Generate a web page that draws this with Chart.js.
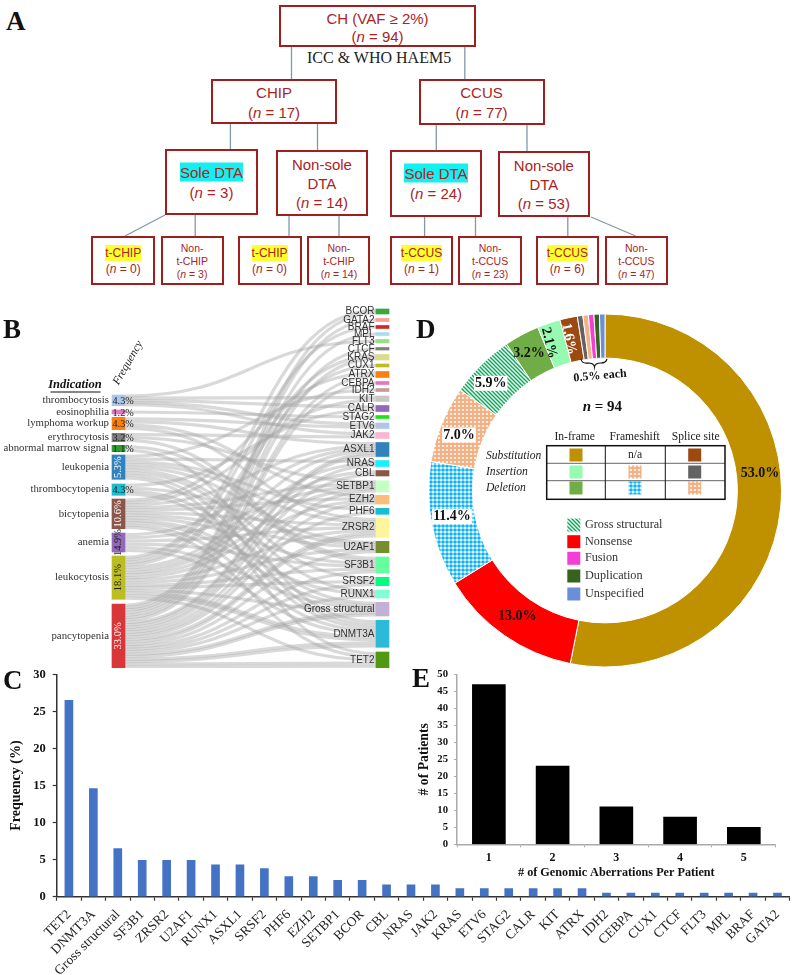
<!DOCTYPE html>
<html>
<head>
<meta charset="utf-8">
<script src="https://cdn.jsdelivr.net/npm/chart.js@4"></script>
<style>
  html, body { margin: 0; padding: 0; background: #fff; }
  #page { position: relative; width: 795px; height: 975px; overflow: hidden; }
  canvas { position: absolute; }
  .letter { position: absolute; font: bold 27px "Liberation Serif", serif; color: #111; line-height: 30px; }
  .box { position: absolute; box-sizing: border-box; border: 2px solid #9e1f1f; background: #fff;
         text-align: center; color: #a9241f; font-family: "Liberation Sans", sans-serif; }
  .box div { position: absolute; left: 0; right: 0; transform: translateY(-50%); white-space: nowrap; }
  .box i { font-style: italic; }
  .cy { background: #14f0f0; padding: 1px 0; }
  .ye { background: #ffff30; padding: 1px 0; }
  #links { position: absolute; left: 0; top: 0; }
  #icc { position: absolute; left: 307px; top: 49px; font: 16px "Liberation Serif", serif; color: #222; white-space: nowrap; }
</style>
</head>
<body>
<div id="page">
  <svg id="links" width="795" height="300"></svg>
  <div id="icc">ICC &amp; WHO HAEM5</div>
  <div id="tree"></div>
  <canvas id="sankey" width="400" height="372" style="left:0;top:300px"></canvas>
  <canvas id="mut" width="795" height="315" style="left:0;top:660px"></canvas>
  <canvas id="perPatient" width="395" height="225" style="left:400px;top:660px"></canvas>
  <canvas id="donut" width="390" height="380" style="left:405px;top:300px"></canvas>
  <div class="letter" style="left:6px;top:6px">A</div>
  <div class="letter" style="left:3px;top:314px">B</div>
  <div class="letter" style="left:3px;top:665px">C</div>
  <div class="letter" style="left:416px;top:314px">D</div>
  <div class="letter" style="left:412px;top:663px">E</div>
</div>

<script>
const SERIF = '"Liberation Serif", serif';
const SANS = '"Liberation Sans", sans-serif';

// panel C
const genes = ['TET2', 'DNMT3A', 'Gross structural', 'SF3B1', 'ZRSR2', 'U2AF1', 'RUNX1', 'ASXL1', 'SRSF2', 'PHF6',
  'EZH2', 'SETBP1', 'BCOR', 'CBL', 'NRAS', 'JAK2', 'KRAS', 'ETV6', 'STAG2', 'CALR', 'KIT', 'ATRX', 'IDH2', 'CEBPA',
  'CUX1', 'CTCF', 'FLT3', 'MPL', 'BRAF', 'GATA2'];
const geneFreq = [26.5, 14.6, 6.5, 4.9, 4.9, 4.9, 4.3, 4.3, 3.8, 2.7, 2.7, 2.2, 2.2, 1.6, 1.6, 1.6, 1.1, 1.1, 1.1, 1.1, 1.1, 1.1,
  0.5, 0.5, 0.5, 0.5, 0.5, 0.5, 0.5, 0.5];

// panel E
const aberrationCounts = ['1', '2', '3', '4', '5'];
const patientCounts = [47, 23, 11, 8, 5];

// panel D
const mutationTypes = ['Substitution in-frame', 'Nonsense', 'Deletion frameshift', 'Insertion frameshift', 'Gross structural',
  'Deletion in-frame', 'Insertion in-frame', 'Substitution splice site', 'Insertion splice site', 'Deletion splice site',
  'Fusion', 'Duplication', 'Unspecified'];
const mutationShare = [53.0, 13.0, 11.4, 7.0, 5.9, 3.2, 2.1, 1.6, 0.5, 0.5, 0.5, 0.5, 0.5];

const indications = ['thrombocytosis', 'eosinophilia', 'lymphoma workup', 'erythrocytosis', 'abnormal marrow signal', 'leukopenia',
  'thrombocytopenia', 'bicytopenia', 'anemia', 'leukocytosis', 'pancytopenia'];
const indicationFreq = ['4.3%', '1.2%', '4.3%', '3.2%', '1.1%', '5.3%', '4.3%', '10.6%', '14.9%', '18.1%', '33.0%'];
const indicationSpans = [[95, 105.7], [110, 114], [117.3, 129.7], [133.3, 141.7], [145.3, 151.7], [155, 179.3], [184, 195.3],
  [199, 228.7], [233, 252], [256, 299.3], [304, 367.7]];
const indicationColors = ['#aec7e8', '#e377c2', '#ff7f0e', '#7f7f7f', '#2ca02c', '#3182bd', '#17becf', '#8c564b', '#9467bd', '#bcbd22', '#d9363a'];

const sankeyGenes = ['BCOR', 'GATA2', 'BRAF', 'MPL', 'FLT3', 'CTCF', 'KRAS', 'CUX1', 'ATRX', 'CEBPA', 'IDH2', 'KIT', 'CALR', 'STAG2',
  'ETV6', 'JAK2', 'ASXL1', 'NRAS', 'CBL', 'SETBP1', 'EZH2', 'PHF6', 'ZRSR2', 'U2AF1', 'SF3B1', 'SRSF2', 'RUNX1', 'Gross structural', 'DNMT3A', 'TET2'];
const geneSpans = [[9, 14], [18.5, 21.5], [25.5, 28.5], [32.5, 35.5], [39.5, 43], [47.5, 50], [54.5, 60], [64, 67], [71.5, 77.5],
  [81.5, 84.5], [88.5, 91.5], [96, 101.5], [105.5, 111.5], [115.5, 118.5], [123, 128.5], [132.5, 138.5], [142.5, 156.5], [160.5, 166.5],
  [170.5, 176], [180.7, 192], [195.3, 204], [208.3, 214.3], [218, 237.3], [241.3, 252.7], [257, 273], [277.3, 285.7], [290, 298],
  [302.3, 316], [320.3, 347.3], [352, 367.7]];
const geneColors = ['#3aa640', '#ff9896', '#d62728', '#a8dcec', '#98df8a', '#7f7f7f', '#dbdb8d', '#bcbd22', '#ff7f0e', '#e377c2', '#c49c94',
  '#c7c7c7', '#9467bd', '#19e619', '#aec7e8', '#f7b6d2', '#3182bd', '#19f0ff', '#8c564b', '#c4ffc4', '#ffbb78', '#17becf', '#fff59b',
  '#748f2c', '#66ffa0', '#00ff7f', '#80ffd4', '#c5b0d5', '#2bbbd8', '#4f9a10'];
// for every gene above: which indications it is connected to
const geneLinks = [[9, 10], [10], [9], [10], [0], [10], [9, 10], [9], [7, 10], [10], [5], [0, 7], [0, 6], [1], [2, 0], [0, 3],
  [2, 7, 8, 9, 10, 10], [5, 9, 10], [9, 10], [3, 7, 8, 9, 10], [2, 7, 9, 10], [5, 10], [2, 5, 7, 8, 9, 10, 10], [5, 6, 7, 9, 10], [3, 4, 7, 8, 9, 10],
  [5, 9, 10], [5, 7, 10], [6, 7, 8, 9, 10, 10], [4, 5, 6, 7, 8, 9, 9, 10, 10], [5, 7, 9, 10, 10]];

// panel A
const treeBoxes = [
  { x: 279, y: 5, w: 197, h: 42, lines: [['CH (VAF ≥ 2%)', 12.5], ['(<i>n</i> = 94)', 31]], size: 15 },
  { x: 211, y: 79, w: 126, h: 45, lines: [['CHIP', 13], ['(<i>n</i> = 17)', 33]], size: 15 },
  { x: 418.5, y: 79, w: 126, h: 46, lines: [['CCUS', 13], ['(<i>n</i> = 77)', 33]], size: 15 },
  { x: 165, y: 149, w: 93, h: 66, lines: [['<span class="cy">Sole DTA</span>', 23], ['(<i>n</i> = 3)', 43]], size: 15 },
  { x: 275.7, y: 150, w: 92.5, h: 66, lines: [['Non-sole', 14], ['DTA', 33], ['(<i>n</i> = 14)', 52]], size: 15 },
  { x: 390, y: 150.3, w: 92, h: 66.4, lines: [['<span class="cy">Sole DTA</span>', 23], ['(<i>n</i> = 24)', 43]], size: 15 },
  { x: 497.5, y: 151, w: 92.7, h: 66.3, lines: [['Non-sole', 14], ['DTA', 33], ['(<i>n</i> = 53)', 52]], size: 15 },
  { x: 91.2, y: 236, w: 64, h: 49, lines: [['<span class="ye">t-CHIP</span>', 17], ['(<i>n</i> = 0)', 33]], size: 12 },
  { x: 160.5, y: 236, w: 63.3, h: 49, lines: [['Non-', 12], ['t-CHIP', 25], ['(<i>n</i> = 3)', 38]], size: 10.5 },
  { x: 237.5, y: 236, w: 64.2, h: 49, lines: [['<span class="ye">t-CHIP</span>', 17], ['(<i>n</i> = 0)', 33]], size: 12 },
  { x: 307.3, y: 236, w: 63.2, h: 49, lines: [['Non-', 12], ['t-CHIP', 25], ['(<i>n</i> = 14)', 38]], size: 10.5 },
  { x: 390, y: 236, w: 63, h: 49, lines: [['<span class="ye">t-CCUS</span>', 17], ['(<i>n</i> = 1)', 33]], size: 12 },
  { x: 458.2, y: 236, w: 63.8, h: 49, lines: [['Non-', 12], ['t-CCUS', 25], ['(<i>n</i> = 23)', 38]], size: 10.5 },
  { x: 535.7, y: 236, w: 63.3, h: 49, lines: [['<span class="ye">t-CCUS</span>', 17], ['(<i>n</i> = 6)', 33]], size: 12 },
  { x: 604.5, y: 236, w: 63.7, h: 49, lines: [['Non-', 12], ['t-CCUS', 25], ['(<i>n</i> = 47)', 38]], size: 10.5 }
];
const treeLines = [[291.5, 47, 291.5, 79], [464.8, 47, 464.8, 79], [230.4, 124, 230.4, 150], [317.5, 124, 317.5, 150],
  [436.3, 125, 436.3, 151], [527, 125, 527, 152], [165, 215, 125, 236], [195.2, 215, 195.2, 236], [289, 216, 289, 236],
  [339, 216, 339, 236], [424.6, 217, 424.6, 236], [475.5, 217, 475.5, 236], [567.8, 217, 567.8, 236], [591, 217, 635.6, 236]];

Chart.defaults.animation = false;
Chart.defaults.responsive = false;
Chart.defaults.plugins.legend.display = false;
Chart.defaults.plugins.tooltip.enabled = false;

function buildTree() {
  const svg = document.getElementById('links');
  svg.innerHTML = treeLines.map(l =>
    `<line x1="${l[0]}" y1="${l[1]}" x2="${l[2]}" y2="${l[3]}" stroke="#7f9aa8" stroke-width="1.3"/>`).join('');
  document.getElementById('tree').innerHTML = treeBoxes.map(b => {
    const rows = b.lines.map(l => `<div style="top:${l[1] - 2}px">${l[0]}</div>`).join('');
    return `<div class="box" style="left:${b.x}px;top:${b.y}px;width:${b.w}px;height:${b.h}px;font-size:${b.size}px">${rows}</div>`;
  }).join('');
}

function drawText(ctx, str, x, y, font, color, align, rot) {
  ctx.save();
  ctx.translate(x, y);
  if (rot) ctx.rotate(rot * Math.PI / 180);
  ctx.font = font;
  ctx.fillStyle = color;
  ctx.textAlign = align || 'center';
  ctx.textBaseline = 'middle';
  ctx.fillText(str, 0, 0);
  ctx.restore();
}

// panel B: bars are the nodes, ribbons go between them on the same scales
const ribbons = {
  id: 'ribbons',
  beforeDatasetsDraw(chart) {
    const { ctx, scales: { x, y } } = chart;
    const leftX = x.getPixelForValue(0) + 6.5;
    const rightX = x.getPixelForValue(1) - 6.5;
    const flows = [];
    geneLinks.forEach((list, g) => list.forEach(i => flows.push({ i, g })));
    const midL = s => (indicationSpans[s][0] + indicationSpans[s][1]) / 2;
    const midR = s => (geneSpans[s][0] + geneSpans[s][1]) / 2;
    indications.forEach((_, i) => {
      const own = flows.filter(f => f.i === i).sort((a, b) => midR(a.g) - midR(b.g));
      own.forEach((f, k) => {
        f.y0 = indicationSpans[i][0] + (indicationSpans[i][1] - indicationSpans[i][0]) * (k + 0.5) / own.length;
      });
    });
    sankeyGenes.forEach((_, g) => {
      const own = flows.filter(f => f.g === g).sort((a, b) => midL(a.i) - midL(b.i));
      own.forEach((f, k) => {
        f.y1 = geneSpans[g][0] + (geneSpans[g][1] - geneSpans[g][0]) * (k + 0.5) / own.length;
      });
    });
    ctx.save();
    ctx.strokeStyle = 'rgba(165,165,165,0.42)';
    ctx.lineWidth = 3.2;
    const midX = (leftX + rightX) / 2;
    flows.forEach(f => {
      const a = y.getPixelForValue(f.y0);
      const b = y.getPixelForValue(f.y1);
      ctx.beginPath();
      ctx.moveTo(leftX, a);
      ctx.bezierCurveTo(midX, a, midX, b, rightX, b);
      ctx.stroke();
    });
    ctx.restore();
  },
  afterDraw(chart) {
    const { ctx, scales: { x, y } } = chart;
    const leftX = x.getPixelForValue(0);
    const rightX = x.getPixelForValue(1);
    indications.forEach((name, i) => {
      const [a, b] = indicationSpans[i];
      const cy = y.getPixelForValue((a + b) / 2);
      drawText(ctx, name, leftX - 9.5, cy, `10.8px ${SERIF}`, '#333', 'right');
      if (b - a > 15) {
        const col = [5, 7, 10].includes(i) ? '#fff' : '#222';
        drawText(ctx, indicationFreq[i], leftX, cy, `10.5px ${SERIF}`, col, 'center', -90);
      } else {
        drawText(ctx, indicationFreq[i], leftX - 6, cy + 1, `10.2px ${SERIF}`, '#222', 'left');
      }
    });
    sankeyGenes.forEach((name, g) => {
      const [a, b] = geneSpans[g];
      drawText(ctx, name, rightX - 8, y.getPixelForValue((a + b) / 2), `10px ${SANS}`, '#333', 'right');
    });
    drawText(ctx, 'Indication', 75, 85, `italic bold 12.5px ${SERIF}`, '#111');
    ctx.fillStyle = '#111';
    ctx.fillRect(50.5, 91.5, 50, 1);
    drawText(ctx, 'Frequency', 128, 63, `italic 11.5px ${SERIF}`, '#222', 'center', -60);
  }
};

new Chart(document.getElementById('sankey'), {
  type: 'bar',
  plugins: [ribbons],
  data: {
    labels: ['Indication', 'Gene'],
    datasets: [
      ...indications.map((n, i) => ({ label: n, data: [indicationSpans[i], null], backgroundColor: indicationColors[i], grouped: false, barThickness: 13, clip: false })),
      ...sankeyGenes.map((n, i) => ({ label: n, data: [null, geneSpans[i]], backgroundColor: geneColors[i], grouped: false, barThickness: 13, clip: false }))
    ]
  },
  options: {
    layout: { padding: { left: 118.5, right: 17.5, top: 0, bottom: 0 } },
    scales: {
      x: { display: false, offset: false },
      y: { display: false, reverse: true, min: 0, max: 372 }
    }
  }
});

// panel C
new Chart(document.getElementById('mut'), {
  type: 'bar',
  data: { labels: genes, datasets: [{ data: geneFreq, backgroundColor: '#4472c4', barThickness: 8 }] },
  options: {
    layout: { padding: { top: 13.3, right: 3 } },
    scales: {
      x: {
        afterFit: s => { s.height = 78.3; },
        border: { color: '#333', width: 1.5 },
        grid: { drawOnChartArea: false, color: '#333', tickLength: 4, tickWidth: 1.2 },
        ticks: { color: '#222', font: { family: SERIF, size: 13.5 }, minRotation: 45, maxRotation: 45, padding: 6, autoSkip: false }
      },
      y: {
        min: 0, max: 30,
        afterFit: s => { s.width = 56.7; },
        border: { color: '#333', width: 1.5 },
        grid: { drawOnChartArea: false, color: '#333', tickLength: 4, tickWidth: 1.2 },
        ticks: { stepSize: 5, color: '#111', font: { family: SERIF, size: 12.5, weight: 'bold' }, padding: 7 },
        title: { display: true, text: 'Frequency (%)', color: '#111', font: { family: SERIF, size: 14, weight: 'bold' }, padding: { top: 8, bottom: 0 } }
      }
    }
  }
});

// panel E
new Chart(document.getElementById('perPatient'), {
  type: 'bar',
  data: { labels: aberrationCounts, datasets: [{ data: patientCounts, backgroundColor: '#000', barThickness: 33 }] },
  options: {
    layout: { padding: { top: 14.3, right: 19.3 } },
    scales: {
      x: {
        afterFit: s => { s.height = 40.7; },
        border: { color: '#aaa', width: 1.5 },
        grid: { drawOnChartArea: false, color: '#aaa', tickLength: 3 },
        ticks: { color: '#111', font: { family: SERIF, size: 12, weight: 'bold' }, padding: 3 },
        title: { display: true, text: '# of Genomic Aberrations Per Patient', color: '#111', font: { family: SERIF, size: 12.2, weight: 'bold' }, padding: { top: 0, bottom: 5 } }
      },
      y: {
        min: 0, max: 50,
        afterFit: s => { s.width = 57; },
        border: { color: '#aaa', width: 1.5 },
        grid: { drawOnChartArea: false, color: '#aaa', tickLength: 3 },
        ticks: { stepSize: 5, color: '#111', font: { family: SERIF, size: 10.7, weight: 'bold' }, padding: 6 },
        title: { display: true, text: '# of Patients', color: '#111', font: { family: SERIF, size: 13.7, weight: 'bold' }, padding: { top: 16, bottom: 0 } }
      }
    }
  }
});

// panel D fills
function tilePattern(size, paint) {
  const c = document.createElement('canvas');
  c.width = size;
  c.height = size;
  paint(c.getContext('2d'), size);
  return c.getContext('2d').createPattern(c, 'repeat');
}
const GOLD = '#bf9000', RED = '#ff0000', GREEN = '#70ad47', LIGHTGREEN = '#96fbb0', BROWN = '#9c4a12', GRAY = '#636363',
  MAGENTA = '#f43fd6', DARKGREEN = '#38631f', SLATE = '#6a8fd8';
const blueDots = tilePattern(4, (g, s) => {
  g.fillStyle = '#fff'; g.fillRect(0, 0, s, s);
  g.fillStyle = '#0fb2f2'; g.beginPath(); g.arc(2, 2, 1.8, 0, 7); g.fill();
});
const orangeDots = tilePattern(4, (g, s) => {
  g.fillStyle = '#f4b183'; g.fillRect(0, 0, s, s);
  g.fillStyle = '#fff'; g.beginPath(); g.arc(2, 2, 1.1, 0, 7); g.fill();
});
const greenStripes = tilePattern(4, (g, s) => {
  g.fillStyle = '#fff'; g.fillRect(0, 0, s, s);
  g.strokeStyle = '#12a85a'; g.lineWidth = 1.5;
  g.beginPath();
  g.moveTo(-1, -1); g.lineTo(5, 5);
  g.moveTo(3, -1); g.lineTo(5, 1);
  g.moveTo(-1, 3); g.lineTo(1, 5);
  g.stroke();
});

const sliceLabels = ['53.0%', '13.0%', '11.4%', '7.0%', '5.9%', '3.2%', '2.1%', '1.6%'];
const sliceLabelSpots = [[355, 173, 0], [112.3, 316, 0], [47, 216.7, 0], [54, 135, 0], [85.7, 83.3, 0], [124, 53, 0], [144, 43, 76], [164, 39, 78]];
const sliceLabelColors = ['#111', '#111', '#111', '#111', '#111', '#111', '#111', '#fff'];
const sliceLabelBacked = [2, 3, 4];
const tableCols = ['In-frame', 'Frameshift', 'Splice site'];
const tableRows = ['Substitution', 'Insertion', 'Deletion'];
const tableFills = [[GOLD, null, BROWN], [LIGHTGREEN, orangeDots, GRAY], [GREEN, blueDots, orangeDots]];
const legendNames = ['Gross structural', 'Nonsense', 'Fusion', 'Duplication', 'Unspecified'];
const legendFills = [greenStripes, RED, MAGENTA, DARKGREEN, SLATE];

const donutNotes = {
  id: 'donutNotes',
  afterDraw(chart) {
    const { ctx } = chart;
    sliceLabels.forEach((t, i) => {
      const [x, y, rot] = sliceLabelSpots[i];
      const font = `bold 14px ${SERIF}`;
      if (sliceLabelBacked.includes(i)) {
        ctx.font = font;
        const w = ctx.measureText(t).width;
        ctx.fillStyle = '#fff';
        ctx.fillRect(x - w / 2 - 1, y - 7.5, w + 2, 15);
      }
      drawText(ctx, t, x, y, font, sliceLabelColors[i], 'center', rot);
    });
    // brace under the five smallest slices
    ctx.save();
    ctx.strokeStyle = '#111';
    ctx.lineWidth = 1.1;
    ctx.beginPath();
    ctx.moveTo(176, 59);
    ctx.quadraticCurveTo(177, 64, 183, 63);
    ctx.quadraticCurveTo(189, 63, 189.5, 67);
    ctx.quadraticCurveTo(190, 63, 196, 63);
    ctx.quadraticCurveTo(201, 63, 202, 59);
    ctx.stroke();
    ctx.restore();
    drawText(ctx, '0.5% each', 195, 76, `bold 12px ${SERIF}`, '#111', 'center', -5);

    ctx.font = `italic bold 15px ${SERIF}`;
    drawText(ctx, 'n', 186, 107, `italic bold 15px ${SERIF}`, '#111', 'right');
    drawText(ctx, ' = 94', 186, 107, `bold 15px ${SERIF}`, '#111', 'left');

    // mutation table
    const colX = [169.7, 229.7, 290.7];
    const swatchX = [171, 230, 289.7];
    const rowY = [155, 172, 188];
    tableCols.forEach((t, c) => drawText(ctx, t, colX[c], 137.3, `11.6px ${SERIF}`, '#222'));
    tableRows.forEach((t, r) => drawText(ctx, t, 81, 156 + r * 16, `italic 11.6px ${SERIF}`, '#222', 'left'));
    tableFills.forEach((row, r) => row.forEach((fill, c) => {
      if (fill) {
        ctx.fillStyle = fill;
        ctx.fillRect(swatchX[c] - 6.5, rowY[r] - 6.5, 13, 13);
      } else {
        drawText(ctx, 'n/a', swatchX[c], rowY[r], `11.6px ${SERIF}`, '#222');
      }
    }));
    ctx.strokeStyle = '#666';
    ctx.lineWidth = 1;
    [163.3, 180.7].forEach(y => { ctx.beginPath(); ctx.moveTo(141.7, y); ctx.lineTo(320, y); ctx.stroke(); });
    ctx.strokeStyle = '#111';
    [200.3, 260.3].forEach(x => { ctx.beginPath(); ctx.moveTo(x, 145.7); ctx.lineTo(x, 199.3); ctx.stroke(); });
    ctx.lineWidth = 1.5;
    ctx.strokeRect(141.7, 145.7, 178.3, 53.6);

    // legend
    const legendY = [225, 241.7, 258.3, 276, 294];
    legendNames.forEach((t, i) => {
      ctx.fillStyle = legendFills[i];
      ctx.fillRect(162.3, legendY[i] - 6.5, 13, 13);
      drawText(ctx, t, 180, legendY[i], `12.2px ${SERIF}`, '#333', 'left');
    });
  }
};

new Chart(document.getElementById('donut'), {
  type: 'doughnut',
  plugins: [donutNotes],
  data: {
    labels: mutationTypes,
    datasets: [{
      data: mutationShare,
      backgroundColor: [GOLD, RED, blueDots, orangeDots, greenStripes, GREEN, LIGHTGREEN, BROWN, GRAY, '#f4b183', MAGENTA, DARKGREEN, SLATE],
      borderColor: '#fff',
      borderWidth: 1
    }]
  },
  options: {
    cutout: '75%',
    layout: { padding: { left: 23, right: 13, top: 13.5, bottom: 12.5 } }
  }
});

buildTree();
</script>
</body>
</html>
